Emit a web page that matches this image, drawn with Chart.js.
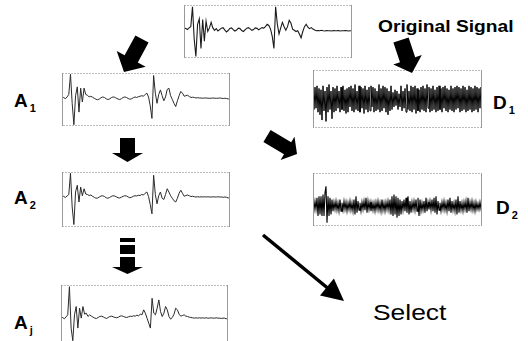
<!DOCTYPE html>
<html>
<head>
<meta charset="utf-8">
<script src="https://cdn.jsdelivr.net/npm/chart.js@4/dist/chart.umd.min.js"></script>
<style>
  html, body { margin: 0; padding: 0; background: #fff; }
  #stage { position: relative; width: 528px; height: 341px; overflow: hidden; background: #fff; }
  #stage canvas { position: absolute; }
  .lbl { position: absolute; font-family: "Liberation Sans", Arial, Helvetica, sans-serif; color: #000; white-space: nowrap; line-height: 1; }
  .big { font-weight: bold; font-size: 19px; }
  .big span { font-size: 11px; position: relative; top: 5px; margin-left: 2px; }
  svg { position: absolute; left: 0; top: 0; }
</style>
</head>
<body>
<div id="stage">
  <canvas id="cOrig" width="168" height="53" style="left:184px;top:5px"></canvas>
  <canvas id="cA1" width="168" height="53" style="left:62px;top:73px"></canvas>
  <canvas id="cA2" width="168" height="55" style="left:62px;top:172px"></canvas>
  <canvas id="cAj" width="167" height="57" style="left:61px;top:285px"></canvas>
  <canvas id="cD1" width="169" height="58" style="left:313px;top:70px"></canvas>
  <canvas id="cD2" width="169" height="53" style="left:313px;top:173px"></canvas>

  <div class="lbl" style="left:378px;top:19px;font-weight:bold;font-size:16px;transform:scaleX(1.2);transform-origin:0 0;">Original Signal</div>
  <div class="lbl big" style="left:14px;top:91px;">A<span>1</span></div>
  <div class="lbl big" style="left:14px;top:188px;">A<span>2</span></div>
  <div class="lbl big" style="left:14px;top:313px;">A<span>j</span></div>
  <div class="lbl big" style="left:493px;top:93px;">D<span>1</span></div>
  <div class="lbl big" style="left:496px;top:198px;">D<span>2</span></div>
  <div class="lbl" style="left:373px;top:302px;font-size:22px;transform:scaleX(1.2);transform-origin:0 0;">Select</div>

  <svg id="arrows" width="528" height="341"></svg>
</div>
<script>
// ---- data ----
const origSignal = [
  0,0.03,-0.02,0.05,0.1,0.93,-0.4,-1.14,0.2,0.43,
  -0.8,0.4,-0.5,0.33,-0.1,0.05,0.28,0.05,-0.05,0.02,
  -0.08,-0.02,0.04,0.06,-0.03,-0.12,-0.06,0.03,0.05,-0.02,
  -0.08,-0.04,0.04,0.02,-0.06,-0.1,-0.03,0.04,0.06,0.01,
  -0.05,-0.02,0.05,0.03,-0.03,0.02,0.06,0.04,0.1,0.2,
  0.15,0,-0.3,-0.8,0.93,0.2,-0.2,0.05,0.28,0.1,
  -0.05,0.1,0.36,0.25,0,-0.05,-0.1,-0.07,-0.2,-0.36,
  -0.1,0.1,0.2,0.08,0.02,0.06,0,-0.04,-0.07,-0.06,
  -0.07,-0.05,-0.07,-0.08,-0.06,-0.07,-0.07,-0.08,-0.06,-0.07,
  -0.07,-0.06,-0.08,-0.07,-0.07,-0.06,-0.07,-0.08,-0.07,-0.07
];
const approx1 = [
  0,0.03,-0.02,0.05,0.15,0.95,-0.2,-1.05,0.1,0.45,
  -0.55,0.4,-0.15,0.4,0.15,0.12,0.05,0.08,0.04,0,
  -0.04,-0.06,-0.03,0.02,0.05,0.03,-0.02,-0.05,-0.03,0.02,
  0.05,0.04,0,-0.03,-0.05,-0.02,0.03,0.05,0.03,-0.01,
  -0.04,-0.02,0.02,0.05,0.03,0.06,0.08,0.1,0.08,0.15,
  0.2,0.05,-0.3,-0.8,0.9,0.2,-0.2,0.15,0.33,0.1,
  -0.1,0.05,0.35,0.4,0.1,-0.05,-0.2,-0.33,-0.1,0.1,
  0.27,0.2,0.08,0.1,0.12,0.07,0.03,0.04,0.03,0.01,
  0.02,0.01,0.01,0,0.01,0.01,0,0,0,0.01,
  0,0,0,0.01,0,-0.01,0,-0.01,-0.03,-0.02
];
const approx2 = [
  0,0.03,-0.02,0.04,0.1,0.95,-0.4,-1.1,0.2,0.47,
  -0.2,0.4,0.05,0.33,0.12,0.1,0.06,0.08,0.03,-0.01,
  -0.05,-0.04,0,0.04,0.05,0.02,-0.03,-0.05,-0.02,0.02,
  0.05,0.04,0.01,-0.03,-0.04,-0.01,0.03,0.05,0.04,0,
  -0.03,-0.01,0.03,0.05,0.04,0.07,0.06,0.1,0.08,0.15,
  0.2,0.02,-0.3,-0.67,0.87,0.1,-0.27,0.05,0.2,-0.05,
  -0.1,0.1,0.33,0.2,0.05,-0.05,-0.15,-0.2,-0.05,0.15,
  0.27,0.15,0.03,0.06,0.08,0.05,0.02,0.03,0.01,0,
  0.01,0,0.01,0,0.01,0,0.01,0,0,0.01,
  0,0,0.01,0,0,-0.01,0,-0.01,-0.04,-0.02
];
const approxJ = [
  0,0.02,-0.02,0.04,0.1,0.95,-0.3,-0.68,0.1,0.35,
  -0.3,0.3,0,0.35,0.12,0.15,0.05,0.1,0.06,0.03,
  0,-0.01,0.02,0.05,0.06,0.04,0.01,-0.01,0.02,0.05,
  0.06,0.04,0.02,0.01,0.03,0.06,0.07,0.05,0.03,0.02,
  0.04,0.06,0.05,0.07,0.06,0.09,0.07,0.12,0.1,0.25,
  0.15,0,-0.15,-0.3,0.6,0.15,0.1,0.3,0.55,0.2,
  0.05,0.15,0.35,0.25,0.05,-0.03,0.02,0.12,0.3,0.25,
  0.12,0.06,0.08,0.1,0.06,0.05,0.03,0.02,0.01,0,
  0.01,0,0.01,0,0.01,0,0.01,0,0,0.01,
  0,0,0.01,0,0,-0.01,0,0,-0.02,0
];
const detail1 = [
  0.3,-0.4,0.45,-0.35,0.5,-0.5,0.4,-0.6,0.35,-0.8,
  0.5,-0.45,0.3,-0.85,0.45,-0.5,0.55,-0.4,0.3,-0.75,
  0.45,-0.5,0.4,-0.45,0.5,-0.35,0.3,-0.5,0.45,-0.4,
  0.5,-0.45,0.35,-0.55,0.4,-0.5,0.45,-0.3,0.5,-0.45,
  0.4,-0.5,0.55,-0.4,0.3,-0.45,0.5,-0.5,0.45,-0.35,
  0.4,-0.55,0.5,-0.4,0.35,-0.5,0.45,-0.45,0.5,-0.3,
  0.45,-0.5,0.4,-0.45,0.3,-0.4,0.55,-0.5,0.4,-0.45,
  0.5,-0.35,0.45,-0.5,0.4,-0.6,0.3,-0.45,0.5,-0.4,
  0.25,-0.3,0.35,-0.25,0.3,-0.4,0.2,-0.3,0.5,-0.45,
  0.3,-0.35,0.4,-0.5,0.55,-0.4,0.3,-0.45,0.5,-0.5,
  0.45,-0.4,0.5,-0.55,0.4,-0.45,0.35,-0.5,0.45,-0.4,
  0.5,-0.45,0.4,-0.5,0.55,-0.35,0.45,-0.5,0.4,-0.45,
  0.5,-0.4,0.35,-0.5,0.45,-0.45,0.5,-0.4,0.4,-0.5,
  0.45,-0.35,0.5,-0.45,0.4,-0.5,0.35,-0.4,0.5,-0.45,
  0.4,-0.5,0.45,-0.4,0.5,-0.35,0.45,-0.5,0.4,-0.45,
  0.5,-0.4,0.45,-0.5,0.35,-0.45,0.5,-0.4,0.45,-0.5,
  0.4,-0.45,0.5,-0.4,0.45,-0.5,0.4,-0.35,0.45,-0.4
];
const detail2 = [
  0.1,-0.12,0.15,-0.1,0.25,-0.3,0.3,-0.25,0.3,-0.3,
  0.35,-0.3,0.4,0.6,-0.5,0.3,-0.3,0.25,-0.25,0.2,
  -0.15,0.12,-0.1,0.15,-0.12,0.1,-0.15,0.2,-0.15,0.1,
  -0.12,0.15,-0.1,0.12,-0.15,0.1,-0.1,0.15,-0.12,0.1,
  -0.15,0.2,-0.25,0.3,-0.2,0.15,-0.12,0.1,-0.15,0.12,
  -0.1,0.15,-0.12,0.25,-0.2,0.15,-0.1,0.12,-0.15,0.1,
  -0.12,0.1,-0.15,0.12,-0.1,0.15,-0.12,0.1,-0.15,0.2,
  -0.12,0.1,-0.15,0.12,-0.1,0.15,-0.12,0.2,-0.25,0.3,
  -0.3,0.35,-0.25,0.3,-0.35,0.25,-0.3,0.2,-0.25,0.15,
  -0.12,0.2,-0.15,0.25,-0.2,0.3,-0.25,0.15,-0.2,0.12,
  -0.1,0.15,-0.12,0.2,-0.15,0.25,-0.3,0.2,-0.15,0.1,
  -0.12,0.15,-0.2,0.25,-0.15,0.12,-0.1,0.15,-0.12,0.2,
  -0.15,0.25,-0.2,0.3,-0.25,0.15,-0.12,0.1,-0.15,0.12,
  -0.1,0.15,-0.12,0.1,-0.15,0.2,-0.15,0.25,-0.2,0.15,
  -0.12,0.1,-0.15,0.2,-0.25,0.3,-0.2,0.15,-0.12,0.1,
  -0.15,0.12,-0.1,0.15,-0.2,0.25,-0.15,0.12,-0.1,0.15,
  -0.12,0.1,-0.15,0.12,-0.1,0.08,-0.1,0.12,-0.08,0.05
];

// ---- dotted frame around each small plot ----
const framePlugin = {
  id: 'frame',
  afterDraw(chart) {
    const { ctx, chartArea: a } = chart;
    ctx.save();
    ctx.strokeStyle = '#7a7a7a';
    ctx.lineWidth = 1;
    ctx.setLineDash([1, 2]);
    ctx.strokeRect(a.left + 0.5, a.top + 0.5, a.right - a.left - 1, a.bottom - a.top - 1);
    ctx.setLineDash([]);
    ctx.strokeStyle = '#9a9a9a';
    ctx.beginPath();
    ctx.moveTo(a.left + 0.5, a.top); ctx.lineTo(a.left + 0.5, a.bottom);
    ctx.moveTo(a.right - 0.5, a.top); ctx.lineTo(a.right - 0.5, a.bottom);
    ctx.stroke();
    ctx.restore();
  }
};

function makeChart(id, values, yMin, yMax, color, width) {
  return new Chart(document.getElementById(id), {
    type: 'line',
    data: {
      labels: values.map((_, i) => i),
      datasets: [{ data: values, borderColor: color, borderWidth: width, pointRadius: 0, tension: 0, fill: false }]
    },
    options: {
      responsive: false, animation: false, events: [],
      layout: { padding: 0 },
      plugins: { legend: { display: false }, tooltip: { enabled: false } },
      scales: { x: { display: false }, y: { display: false, min: yMin, max: yMax } }
    },
    plugins: [framePlugin]
  });
}

makeChart('cOrig', origSignal, -1.2, 1.0, '#1a1a1a', 1.1);
makeChart('cA1', approx1, -1.1, 1.0, '#2a2a2a', 1);
makeChart('cA2', approx2, -1.2, 1.0, '#2a2a2a', 1);
makeChart('cAj', approxJ, -0.72, 1.0, '#2a2a2a', 1);
makeChart('cD1', detail1, -1.1, 1.1, '#000', 1);
makeChart('cD2', detail2, -0.6, 1.0, '#000', 1.1);

// ---- diagram arrows (layout only) ----
const svg = document.getElementById('arrows');
const NS = 'http://www.w3.org/2000/svg';
function poly(points) {
  const p = document.createElementNS(NS, 'polygon');
  p.setAttribute('points', points.map(q => q[0].toFixed(1) + ',' + q[1].toFixed(1)).join(' '));
  p.setAttribute('fill', '#000');
  svg.appendChild(p);
}
function blockArrow(x1, y1, x2, y2, sw, hw, hl) {
  const dx = x2 - x1, dy = y2 - y1, L = Math.hypot(dx, dy);
  const ux = dx / L, uy = dy / L, px = -uy, py = ux;
  const bx = x2 - ux * hl, by = y2 - uy * hl;
  poly([
    [x1 + px * sw / 2, y1 + py * sw / 2],
    [bx + px * sw / 2, by + py * sw / 2],
    [bx + px * hw / 2, by + py * hw / 2],
    [x2, y2],
    [bx - px * hw / 2, by - py * hw / 2],
    [bx - px * sw / 2, by - py * sw / 2],
    [x1 - px * sw / 2, y1 - py * sw / 2]
  ]);
}
blockArrow(142, 39, 124, 72, 15, 33, 15);   // original -> A1
blockArrow(401, 40, 412, 73, 16, 30, 14);   // original -> D1
blockArrow(267, 136, 297, 154, 14, 27, 11); // A1 -> D2
blockArrow(127.5, 138, 127.5, 162, 15, 31, 9); // A1 -> A2
// dashed arrow A2 ... Aj
poly([[120, 238], [135, 238], [135, 242], [120, 242]]);
poly([[120, 245], [135, 245], [135, 254], [120, 254]]);
blockArrow(127.5, 257, 127.5, 274, 15, 31, 7);
// thin arrow to Select
const ln = document.createElementNS(NS, 'line');
ln.setAttribute('x1', 263); ln.setAttribute('y1', 235);
ln.setAttribute('x2', 330); ln.setAttribute('y2', 290);
ln.setAttribute('stroke', '#000'); ln.setAttribute('stroke-width', 3.5);
svg.appendChild(ln);
(function () {
  const x1 = 263, y1 = 235, x2 = 344, y2 = 301;
  const dx = x2 - x1, dy = y2 - y1, L = Math.hypot(dx, dy);
  const ux = dx / L, uy = dy / L, px = -uy, py = ux;
  const hl = 22, hw = 22;
  const bx = x2 - ux * hl, by = y2 - uy * hl;
  poly([[x2, y2], [bx + px * hw / 2, by + py * hw / 2], [bx - px * hw / 2, by - py * hw / 2]]);
})();
</script>
</body>
</html>
